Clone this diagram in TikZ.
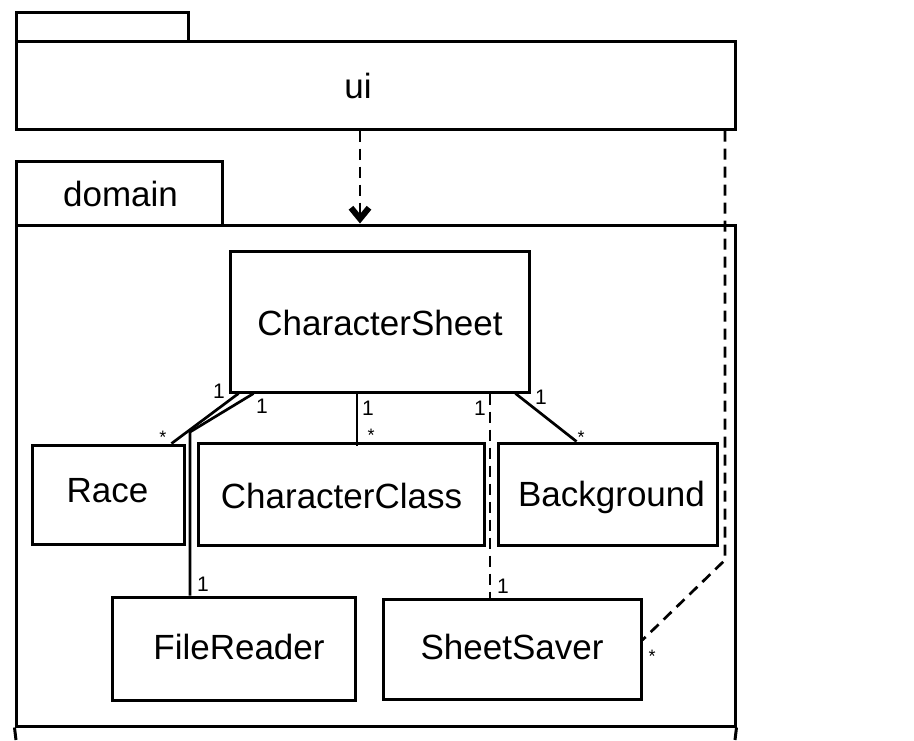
\documentclass[tikz,border=0pt]{standalone}
\usepackage{fontspec}
\setmainfont{Liberation Sans}
\usetikzlibrary{arrows.meta,calc}
\begin{document}
\begin{tikzpicture}[x=1pt,y=-1pt,
  box/.style={draw,line width=3pt,inner sep=0pt},
  pkg/.style={draw,line width=3pt,inner sep=0pt},
  txt/.style={inner sep=0pt,anchor=base,font=\fontsize{35}{40}\selectfont},
  assoc/.style={line width=2.7pt},
  dsh/.style={line width=2.7pt,dash pattern=on 11pt off 7pt},
  mult/.style={inner sep=0pt,font=\fontsize{21}{23}\selectfont},
  star/.style={inner sep=0pt,font=\fontsize{18}{19}\selectfont}]
\useasboundingbox (0,0) rectangle (914,740);
% packages
\node[pkg,minimum width=172pt,minimum height=29pt] (uitab) at (102,26.5) {};
\node[pkg,minimum width=719pt,minimum height=88pt] (uibody) at (375.5,85) {};
\node[txt] (uilbl) at (358,98) {ui};
\node[pkg,minimum width=206pt,minimum height=64pt] (domtab) at (119,193) {};
\node[txt] (domlbl) at (120.5,206) {domain};
\node[pkg,minimum width=719pt,minimum height=501pt] (dombody) at (375.5,475.5) {};
\coordinate (dbl) at (16,740);
\coordinate (dbr) at (735,740);
\draw[line width=3pt] (dombody.south west) -- (dbl);
\draw[line width=3pt] (dombody.south east) -- (dbr);
% classes
\node[box,minimum width=299pt,minimum height=141pt] (sheet) at (379.5,321.5) {};
\node[txt] (sheetlbl) at (380,335) {CharacterSheet};
\node[box,minimum width=152pt,minimum height=99pt] (race) at (108,494.5) {};
\node[txt] (racelbl) at (107.5,502) {Race};
\node[box,minimum width=286pt,minimum height=102pt] (cclass) at (341,494) {};
\node[txt] (cclasslbl) at (341.5,508) {CharacterClass};
\node[box,minimum width=219pt,minimum height=102pt] (bg) at (607.5,494) {};
\node[txt] (bglbl) at (611.5,506) {Background};
\node[box,minimum width=243pt,minimum height=103pt] (reader) at (233.5,648.5) {};
\node[txt] (readerlbl) at (239,659) {FileReader};
\node[box,minimum width=258pt,minimum height=100pt] (saver) at (512,649) {};
\node[txt] (saverlbl) at (512,659) {SheetSaver};
% dependency ui -> domain
\coordinate (depx) at (360,0);
\draw[dsh,-{Straight Barb[length=11pt,width=18pt,line width=6pt]}] (uibody.south -| depx) -- (dombody.north -| depx);
% ui -> SheetSaver
\coordinate (uix) at (725,0);
\coordinate (bend) at (725,560);
\draw[dsh] (uibody.south -| uix) -- (bend) -- ($(saver.east)+(0,-9)$);
\node[star] (m11) at (652,656) {*};
% associations
\draw[assoc] ($(sheet.south west)+(10,0)$) -- ($(race.north east)+(-14,0)$);
\node[mult] (m1) at (219,391) {1};
\node[star] (m2) at (163,437) {*};
\coordinate (rbend) at (190,432);
\draw[assoc] ($(sheet.south west)+(25,0)$) -- (rbend) -- (reader.north -| rbend);
\node[mult] (m3) at (262,406) {1};
\node[mult] (m4) at (203,584) {1};
\coordinate (cx) at (357,0);
\draw[assoc] (sheet.south -| cx) -- ($(cclass.north -| cx)+(0,4)$);
\node[mult] (m5) at (368,408) {1};
\node[star] (m6) at (371,435) {*};
\coordinate (sx) at (490,0);
\draw[dsh] (sheet.south -| sx) -- (saver.north -| sx);
\node[mult] (m7) at (480,408) {1};
\node[mult] (m8) at (503,586) {1};
\draw[assoc] ($(sheet.south east)+(-15,0)$) -- ($(bg.north west)+(80,0)$);
\node[mult] (m9) at (541,397) {1};
\node[star] (m10) at (581,437) {*};
\end{tikzpicture}
\end{document}
